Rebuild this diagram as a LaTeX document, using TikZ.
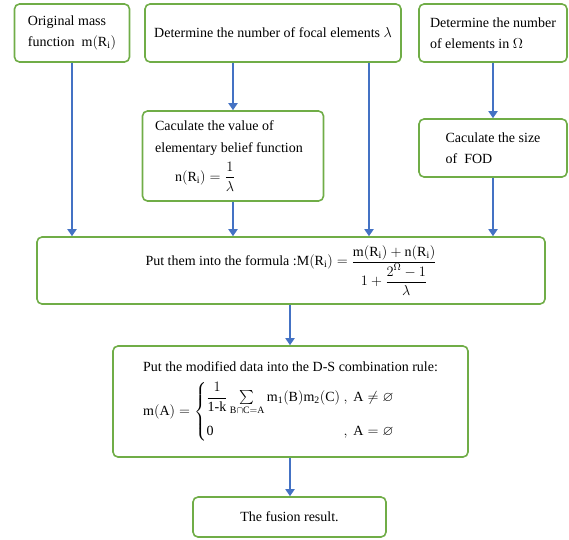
\documentclass[tikz,border=0pt]{standalone}
\usepackage{amsmath,amssymb}
\usepackage{fontspec}
\setmainfont{Liberation Serif}
\usetikzlibrary{arrows.meta}
\definecolor{boxgreen}{RGB}{112,173,71}
\definecolor{arrblue}{RGB}{68,114,196}
\begin{document}
\begin{tikzpicture}[x=1pt,y=-1pt,
  box/.style={draw=boxgreen, line width=1.6pt, rounded corners=5pt, fill=white,
    inner sep=0pt, font=\fontsize{14}{21.5}\selectfont, align=left},
  arr/.style={draw=arrblue, line width=2pt, -{Triangle[width=9pt,length=7pt]}}]
\useasboundingbox (0,0) rectangle (569,539);

\node[box, minimum width=115pt, minimum height=58pt] (b1) at (72,33)
  {Original mass\\function \ $\mathrm{m(R_i)}$};
\node[box, minimum width=256pt, minimum height=58pt] (b2) at (273,33)
  {Determine the number of focal elements $\lambda$};
\node[box, minimum width=148pt, minimum height=58pt] (b3) at (493,33)
  {Determine the number\\of elements in $\Omega$};
\node[box, minimum width=181pt, minimum height=90pt] (b4) at (233,156)
  {\hspace*{-8pt}Caculate the value of\\\hspace*{-8pt}elementary belief function\\[6pt]
   \hspace*{12pt}$\mathrm{n(R_i)}=\dfrac{1}{\lambda}$};
\node[box, minimum width=148pt, minimum height=58pt] (b5) at (493,148)
  {Caculate the size\\of \ FOD};
\node[box, minimum width=508pt, minimum height=67pt] (b6) at (291,270.5)
  {Put them into the formula :$\mathrm{M(R_i)}=\dfrac{\mathrm{m(R_i)+n(R_i)}}{1+\dfrac{2^{\Omega}-1}{\lambda}}$};
\node[box, minimum width=355pt, minimum height=111pt] (b7) at (290.5,401.5)
  {Put the modified data into the D-S combination rule:\\[10pt]
   $\mathrm{m(A)}=\left\{\begin{array}{@{}l@{}l@{}}
     \dfrac{1}{\mathrm{1\text{-}k}}\sum\limits_{\mathrm{B\cap C=A}}\mathrm{m_1(B)m_2(C)}\ & ,\ \mathrm{A}\neq\varnothing\\[12pt]
     \mathrm{0} & ,\ \mathrm{A}=\varnothing
   \end{array}\right.$};
\node[box, minimum width=193pt, minimum height=40pt] (b8) at (289.5,517)
  {The fusion result.};

\draw[arr] (b1.south) -- (b1.south |- b6.north);
\draw[arr] (b2.south -| b4.north) -- (b4.north);
\draw[arr] (b2.south -| 369,0) -- (b6.north -| 369,0);
\draw[arr] (b3.south) -- (b5.north);
\draw[arr] (b4.south) -- (b4.south |- b6.north);
\draw[arr] (b5.south) -- (b5.south |- b6.north);
\draw[arr] (b6.south -| 290,0) -- (b7.north -| 290,0);
\draw[arr] (b7.south -| 290,0) -- (b8.north -| 290,0);
\end{tikzpicture}
\end{document}
